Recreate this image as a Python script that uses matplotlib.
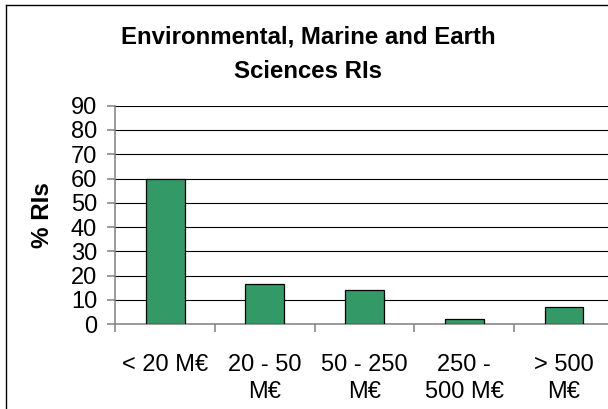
import numpy as np
import matplotlib
matplotlib.use("Agg")
import matplotlib.pyplot as plt
from matplotlib.lines import Line2D

# --- data ---
categories = ["< 20 M€", "20 - 50\nM€", "50 - 250\nM€", "250 -\n500 M€", "> 500\nM€"]
pct_ris = [60.0, 16.6, 14.0, 2.0, 7.2]
y_ticks = [0, 10, 20, 30, 40, 50, 60, 70, 80, 90]

plt.rcParams["font.family"] = ["Liberation Sans", "DejaVu Sans"]

W, H = 608, 409
fig = plt.figure(figsize=(W / 100, H / 100), dpi=100)
fig.patch.set_facecolor("white")

# plot area (runs past the right edge, like the original)
ax = fig.add_axes([115.3 / W, (H - 324.3) / H, 498.5 / W, 218.7 / H])

x = np.arange(len(categories))
ax.bar(x, pct_ris, width=0.39, color="#339966", edgecolor="black",
       linewidth=0.9, zorder=3)

ax.set_xlim(-0.5, len(categories) - 0.5)
ax.set_ylim(0, 90)
ax.set_yticks(y_ticks)
ax.yaxis.grid(True, color="black", linewidth=0.8, zorder=0)
ax.set_axisbelow(True)

for side in ["top", "right"]:
    ax.spines[side].set_visible(False)
for side in ["left", "bottom"]:
    ax.spines[side].set_color("#808080")
    ax.spines[side].set_linewidth(1.1)
    ax.spines[side].set_zorder(2)

ax.tick_params(axis="y", labelsize=17, length=5.6, width=1.1, color="#808080",
               pad=7.5, direction="out")

# category labels centred, tick marks on the category boundaries
ax.set_xticks(x)
ax.set_xticklabels(categories, fontsize=17, linespacing=1.28)
ax.tick_params(axis="x", which="major", length=0, pad=21.5)
ax.set_xticks(np.arange(len(categories) + 1) - 0.5, minor=True)
ax.tick_params(axis="x", which="minor", length=6, width=1.1, color="#808080",
               direction="out")

# title and y label
fig.text(308 / W, 1 - 78.3 / H, "Environmental, Marine and Earth\nSciences RIs",
         ha="center", va="baseline", fontsize=17.3, fontweight="bold",
         linespacing=1.68)
fig.text(42.5 / W, 1 - 215 / H, "% RIs", rotation=90, ha="center", va="center",
         fontsize=17.5, fontweight="bold")

# chart frame (only left and top edges are visible)
fig.add_artist(Line2D([6 / W, 6 / W], [0, 1 - 5 / H], color="black", linewidth=1.0))
fig.add_artist(Line2D([6 / W, 1], [1 - 5 / H, 1 - 5 / H], color="black", linewidth=1.0))

fig.savefig("out.png", dpi=100)
